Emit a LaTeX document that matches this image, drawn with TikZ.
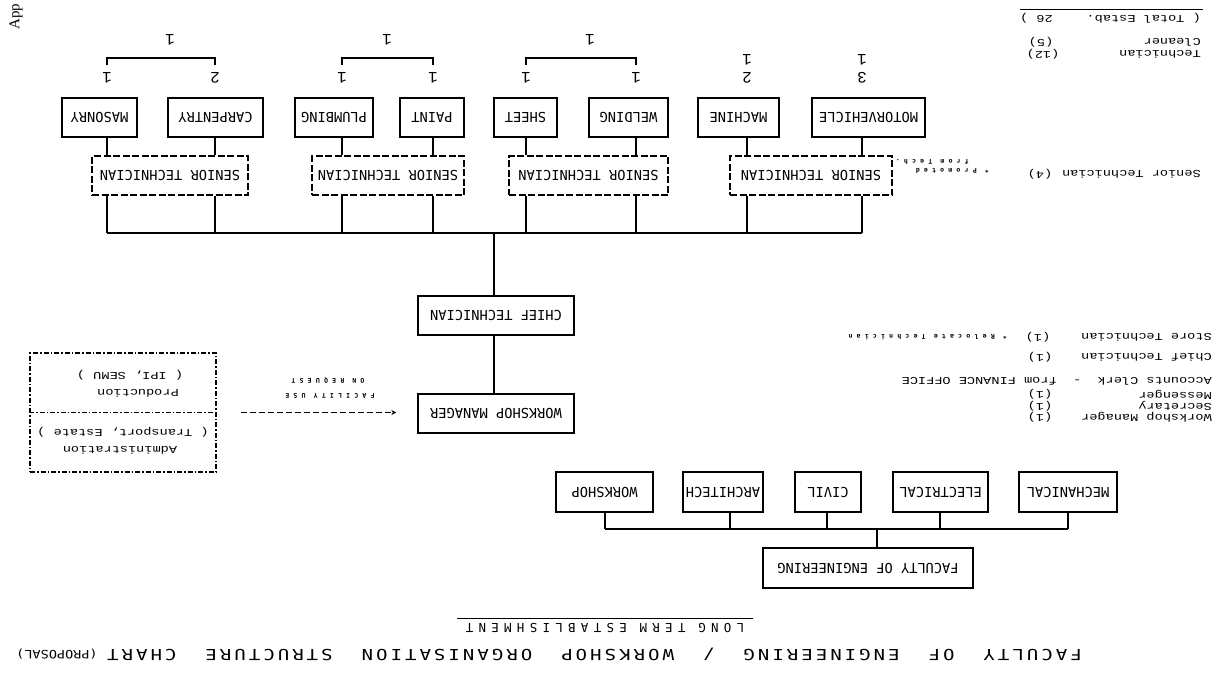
\documentclass[tikz,border=0pt]{standalone}
\usepackage{fontspec}
\usepackage{graphicx}
\usetikzlibrary{arrows.meta}
\setmainfont{Liberation Mono}
\newfontfamily\boxfnt{DejaVu Sans Mono}
\newfontfamily\lstfnt{Liberation Mono}
\newfontfamily\spfnt[LetterSpace=43]{DejaVu Sans Mono}
\newfontfamily\ttlfnt[LetterSpace=16]{DejaVu Sans Mono}
\newfontfamily\tinyfnt[LetterSpace=65]{DejaVu Sans Mono}
\newfontfamily\serfnt{Liberation Serif}
\newcommand\rt[1]{\rotatebox[origin=c]{180}{#1}}
\newcommand\rtl[1]{\scalebox{-1}[-0.78]{#1}}
\tikzset{
  bx/.style={draw, line width=1.3pt, inner sep=0pt, minimum height=39pt, font=\boxfnt\fontsize{13.7}{15}\selectfont},
  stbx/.style={bx, dash pattern=on 7pt off 2.5pt},
  lst/.style={inner sep=0pt, font=\lstfnt\fontsize{13.6}{15}\selectfont},
  num/.style={inner sep=0pt, font=\lstfnt\fontsize{16}{17}\selectfont},
  tinyt/.style={inner sep=0pt, font=\tinyfnt\bfseries\fontsize{6.5}{7}\selectfont},
  ln/.style={line width=1.5pt},
  brk/.style={line width=1.2pt},
}
\begin{document}
\begin{tikzpicture}[x=1pt,y=-1pt]
\useasboundingbox (0,0) rectangle (1220,683);
\fill[white] (0,0) rectangle (1220,683);

% ---- coordinates
\foreach \n/\x in {c1/107,c2/215,c3/342,c4/433,c5/526,c6/636,c7/747,c8/862,cb/494,d1/605,d2/730,d3/827,d4/940,d5/1068,d6/877}
  \coordinate (\n) at (\x,0);
\coordinate (bus) at (0,233);
\coordinate (bus2) at (0,529);
\coordinate (br) at (0,58);
\coordinate (brt) at (0,65);

% ---- top row boxes
\node[bx, minimum width=75pt]  (mas) at (99.5,117.5) {\rt{MASONRY}};
\node[bx, minimum width=95pt]  (car) at (215.5,117.5) {\rt{CARPENTRY}};
\node[bx, minimum width=78pt]  (plu) at (334,117.5) {\rt{PLUMBING}};
\node[bx, minimum width=64pt]  (pai) at (432,117.5) {\rt{PAINT}};
\node[bx, minimum width=63pt]  (she) at (525.5,117.5) {\rt{SHEET}};
\node[bx, minimum width=79pt]  (wel) at (628.5,117.5) {\rt{WELDING}};
\node[bx, minimum width=81pt]  (mac) at (738.5,117.5) {\rt{MACHINE}};
\node[bx, minimum width=113pt] (mot) at (868.5,117.5) {\rt{MOTORVEHICLE}};

% ---- senior technicians
\node[stbx, minimum width=156pt] (st1) at (170,175.5) {\rt{SENIOR TECHNICIAN}};
\node[stbx, minimum width=152pt] (st2) at (388,175.5) {\rt{SENIOR TECHNICIAN}};
\node[stbx, minimum width=159pt] (st3) at (588.5,175.5) {\rt{SENIOR TECHNICIAN}};
\node[stbx, minimum width=162pt] (st4) at (811,175.5) {\rt{SENIOR TECHNICIAN}};

\foreach \b/\s/\c in {mas/st1/c1,car/st1/c2,plu/st2/c3,pai/st2/c4,she/st3/c5,wel/st3/c6,mac/st4/c7,mot/st4/c8}{
  \draw[ln] (\b.south -| \c) -- (\s.north -| \c);
  \draw[ln] (\s.south -| \c) -- (\c |- bus);
}
\draw[ln] (c1 |- bus) -- (c8 |- bus);

% ---- brackets and numbers
\draw[brk] (c1 |- brt) -- (c1 |- br) -- (c2 |- br) -- (c2 |- brt);
\draw[brk] (c3 |- brt) -- (c3 |- br) -- (c4 |- br) -- (c4 |- brt);
\draw[brk] (c5 |- brt) -- (c5 |- br) -- (c6 |- br) -- (c6 |- brt);
\node[num] (t1) at (170,40) {\rt{1}};
\node[num] (t2) at (387,40) {\rt{1}};
\node[num] (t3) at (590,40) {\rt{1}};
\node[num] (n1) at (107,78) {\rt{1}};
\node[num] (n2) at (215,78) {\rt{2}};
\node[num] (n3) at (342,78) {\rt{1}};
\node[num] (n4) at (433,78) {\rt{1}};
\node[num] (n5) at (526,78) {\rt{1}};
\node[num] (n6) at (636,78) {\rt{1}};
\node[num] (n7) at (747,78) {\rt{2}};
\node[num] (n8) at (862,78) {\rt{3}};
\node[num] (m7) at (747,60) {\rt{1}};
\node[num] (m8) at (862,60) {\rt{1}};

% ---- chief / workshop manager
\node[bx, minimum width=156pt] (chief) at (496,315.5) {\rt{CHIEF TECHNICIAN}};
\node[bx, minimum width=156pt] (wm) at (496,413.5) {\rt{WORKSHOP MANAGER}};
\draw[ln] (cb |- bus) -- (chief.north -| cb);
\draw[ln] (chief.south -| cb) -- (wm.north -| cb);

% ---- administration / production
\node[draw, line width=1.2pt, dash pattern=on 5pt off 2pt on 1.5pt off 2pt, minimum width=186pt, minimum height=119pt, inner sep=0pt] (adm) at (123,412.5) {};
\draw[line width=1.2pt, dash pattern=on 5pt off 2pt on 1.5pt off 2pt] (adm.west) -- (adm.east);
\node[lst] (a1) at (130,375) {\rtl{( IPI, SEMU )}};
\node[lst] (a2) at (138,393) {\rtl{Production}};
\node[lst] (a3) at (123,432) {\rtl{( Transport, Estate )}};
\node[lst] (a4) at (120,450) {\rtl{Administration}};
\draw[line width=1.3pt, dash pattern=on 6pt off 3pt, -{Stealth[length=5pt,width=5pt]}, shorten <=24pt, shorten >=21pt] (adm.east) -- (adm.east -| wm.west);
\node[tinyt] (f1) at (330,396) {\rt{FACILITY USE}};
\node[tinyt] (f2) at (328,380) {\rt{ON REQUEST}};

% ---- right-hand establishment list
\draw[line width=0.9pt] (1020,9) -- (1203,9);
\node[lst, anchor=east] (r0) at (1201,18) {\rtl{( Total Estab.}};
\node[lst, anchor=west] (r0n) at (1020,18) {\rtl{26 )}};
\node[lst, anchor=east] (r1) at (1201,42) {\rtl{Cleaner}};
\node[lst] (r1n) at (1041,42) {\rtl{(5)}};
\node[lst, anchor=east] (r2) at (1201,54) {\rtl{Technician}};
\node[lst] (r2n) at (1043,54) {\rtl{(12)}};
\node[lst, anchor=east] (r3) at (1201,174) {\rtl{Senior Technician}};
\node[lst] (r3n) at (1040,174) {\rtl{(4)}};
\node[tinyt, anchor=east] (r3a) at (989,171) {\rt{* Promoted}};
\node[tinyt, anchor=east] (r3b) at (969,162) {\rt{from Tech.}};

\node[lst, anchor=east] (s1) at (1212,337) {\rtl{Store Technician}};
\node[lst] (s1n) at (1038,337) {\rtl{(1)}};
\node[tinyt, anchor=east] (s1a) at (1007,337) {\rt{* Relocate Technician}};
\node[lst, anchor=east] (s2) at (1212,357) {\rtl{Chief Technician}};
\node[lst] (s2n) at (1040,357) {\rtl{(1)}};
\node[lst, anchor=east] (s3) at (1212,381) {\rtl{Accounts Clerk~~-~~from FINANCE OFFICE}};
\node[lst, anchor=east] (s4) at (1212,394.5) {\rtl{Messenger}};
\node[lst] (s4n) at (1040,394.5) {\rtl{(1)}};
\node[lst, anchor=east] (s5) at (1212,406) {\rtl{Secretary}};
\node[lst] (s5n) at (1040,406) {\rtl{(1)}};
\node[lst, anchor=east] (s6) at (1212,417.5) {\rtl{Workshop Manager}};
\node[lst] (s6n) at (1040,417.5) {\rtl{(1)}};

% ---- faculty tree
\node[bx, minimum width=97pt, minimum height=40pt, line width=2.4pt] (wsh) at (604.5,492) {\rt{WORKSHOP}};
\node[bx, minimum width=80pt, minimum height=40pt] (arc) at (723,492) {\rt{ARCHITECH}};
\node[bx, minimum width=66pt, minimum height=40pt] (civ) at (828,492) {\rt{CIVIL}};
\node[bx, minimum width=95pt, minimum height=40pt] (ele) at (940.5,492) {\rt{ELECTRICAL}};
\node[bx, minimum width=98pt, minimum height=40pt] (mec) at (1068,492) {\rt{MECHANICAL}};
\node[bx, minimum width=210pt, minimum height=40pt] (foe) at (868,568) {\rt{FACULTY OF ENGINEERING}};
\foreach \b/\c in {wsh/d1,arc/d2,civ/d3,ele/d4,mec/d5}
  \draw[ln] (\b.south -| \c) -- (\c |- bus2);
\draw[ln] (d1 |- bus2) -- (d5 |- bus2);
\draw[ln] (d6 |- bus2) -- (foe.north -| d6);

% ---- headings
\node[inner sep=0pt, font=\spfnt\fontsize{12.4}{13}\selectfont] (lt) at (605,628) {\rt{LONG TERM ESTABLISHMENT}};
\draw[line width=0.9pt] (457,618) -- (753,618);
\node[inner sep=0pt, anchor=east, font=\ttlfnt\fontsize{19}{20}\selectfont] (title) at (1082,654)
  {\scalebox{-1}[-0.8]{FACULTY~~OF~~ENGINEERING~~/~~WORKSHOP~~ORGANISATION~~STRUCTURE~~CHART}};
\node[inner sep=0pt, font=\boxfnt\fontsize{13.5}{14}\selectfont] (prop) at (57,654) {\scalebox{-1}[-0.85]{(PROPOSAL)}};

% ---- page corner
\node[inner sep=0pt, anchor=west, rotate=90, font=\serfnt\fontsize{15}{16}\selectfont] (app) at (16,30) {App};
\end{tikzpicture}
\end{document}
